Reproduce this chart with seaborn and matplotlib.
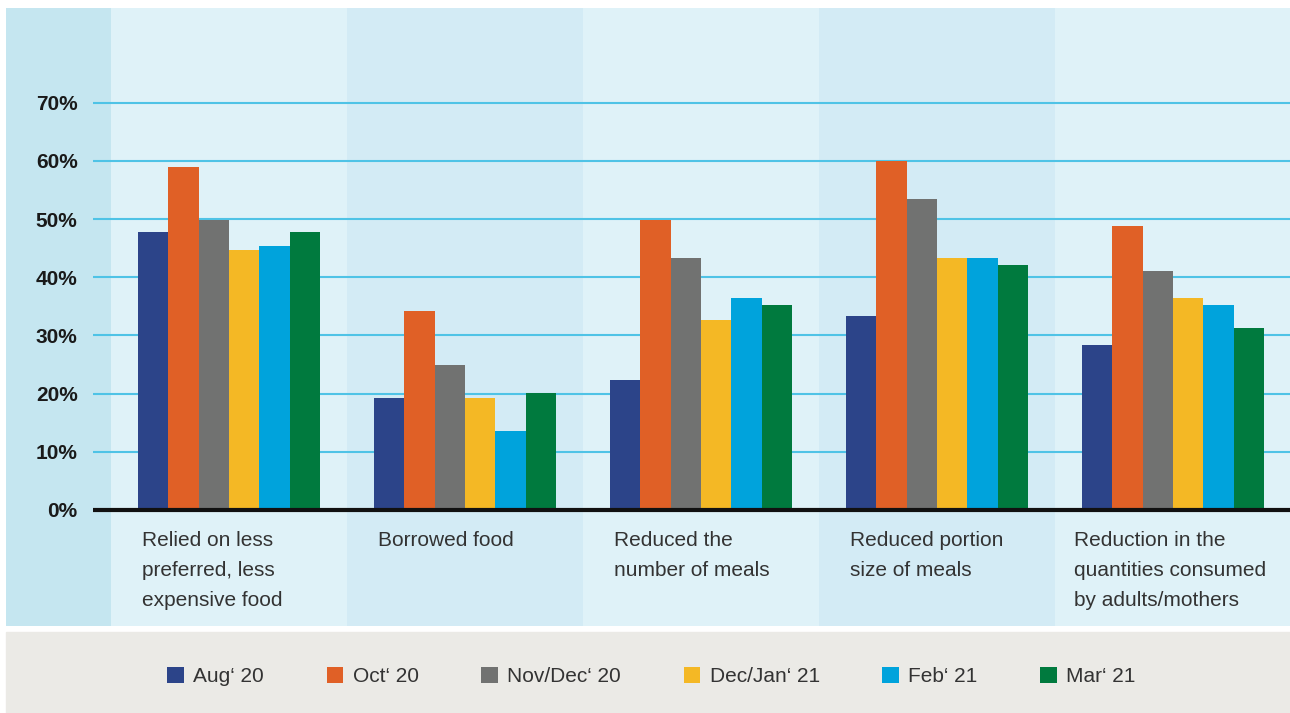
import pandas as pd
import matplotlib.pyplot as plt
import seaborn as sns
from matplotlib.patches import Patch, Rectangle

# data (percent of households)
categories = [
    "Relied on less\npreferred, less\nexpensive food",
    "Borrowed food",
    "Reduced the\nnumber of meals",
    "Reduced portion\nsize of meals",
    "Reduction in the\nquantities consumed\nby adults/mothers",
]
periods = ["Aug\u2018 20", "Oct\u2018 20", "Nov/Dec\u2018 20", "Dec/Jan\u2018 21", "Feb\u2018 21", "Mar\u2018 21"]
aug_20 = [47.8, 19.2, 22.4, 33.4, 28.4]
oct_20 = [58.9, 34.2, 49.8, 60.0, 48.8]
novdec_20 = [49.9, 25.0, 43.4, 53.4, 41.0]
decjan_21 = [44.7, 19.2, 32.6, 43.3, 36.5]
feb_21 = [45.4, 13.6, 36.5, 43.3, 35.2]
mar_21 = [47.8, 20.1, 35.2, 42.1, 31.2]
yticks = [0, 10, 20, 30, 40, 50, 60, 70]

colors = ["#2c4489", "#e06026", "#717271", "#f4b825", "#00a3dc", "#007a3e"]

series = [aug_20, oct_20, novdec_20, decjan_21, feb_21, mar_21]
rows = []
for period, vals in zip(periods, series):
    for cat, v in zip(categories, vals):
        rows.append({"category": cat, "period": period, "value": v})
df = pd.DataFrame(rows)

plt.rcParams["font.family"] = ["Liberation Sans", "DejaVu Sans"]

fig = plt.figure(figsize=(12.9, 7.13), dpi=100)
fig.patch.set_facecolor("white")
ax = fig.add_axes([6 / 1290, 87 / 713, 1284 / 1290, 618 / 713])

# background column bands
x_left, x_right = -0.945, 4.496
ax.axvspan(x_left, -0.5, color="#c5e6f0", zorder=0, lw=0)
for i in range(len(categories)):
    ax.axvspan(i - 0.5, i + 0.5, color="#dff2f8" if i % 2 == 0 else "#d3ebf5", zorder=0, lw=0)

# grid lines and baseline
ax.hlines(yticks[1:], -0.576, x_right, color="#4fc3e6", lw=1.5, zorder=0.5)
ax.hlines(0, -0.576, x_right, color="#111111", lw=3, zorder=3)

sns.barplot(data=df, x="category", y="value", hue="period", palette=colors,
            width=0.77, gap=0, saturation=1, legend=False, ax=ax, zorder=2)

ax.set_xlim(x_left, x_right)
ax.set_ylim(-19.95, 86.3)
ax.set_xticks([])
ax.set_yticks(yticks)
ax.set_yticklabels([f"{t}%" for t in yticks], fontsize=15, fontweight="bold", color="#1a1a1a")
ax.tick_params(axis="y", length=0, pad=-51.5)
ax.set_xlabel("")
ax.set_ylabel("")
for s in ax.spines.values():
    s.set_visible(False)

for i, cat in enumerate(categories):
    dx = -0.42 if i == len(categories) - 1 else -0.37
    ax.text(i + dx, -3.6, cat, ha="left", va="top", fontsize=15,
            color="#333333", linespacing=1.74)

# legend box
fig.patches.append(Rectangle((6 / 1290, 0), 1284 / 1290, 81 / 713,
                             transform=fig.transFigure, color="#ebeae6", zorder=0))
handles = [Patch(facecolor=c, edgecolor="none", label=p) for c, p in zip(colors, periods)]
fig.legend(handles=handles, loc="center", bbox_to_anchor=(0.505, 0.051), ncol=6,
           frameon=False, fontsize=15, handlelength=0.8, handleheight=0.8,
           handletextpad=0.45, columnspacing=3.0, labelcolor="#333333")

plt.savefig("out.png", dpi=100)
plt.close()
